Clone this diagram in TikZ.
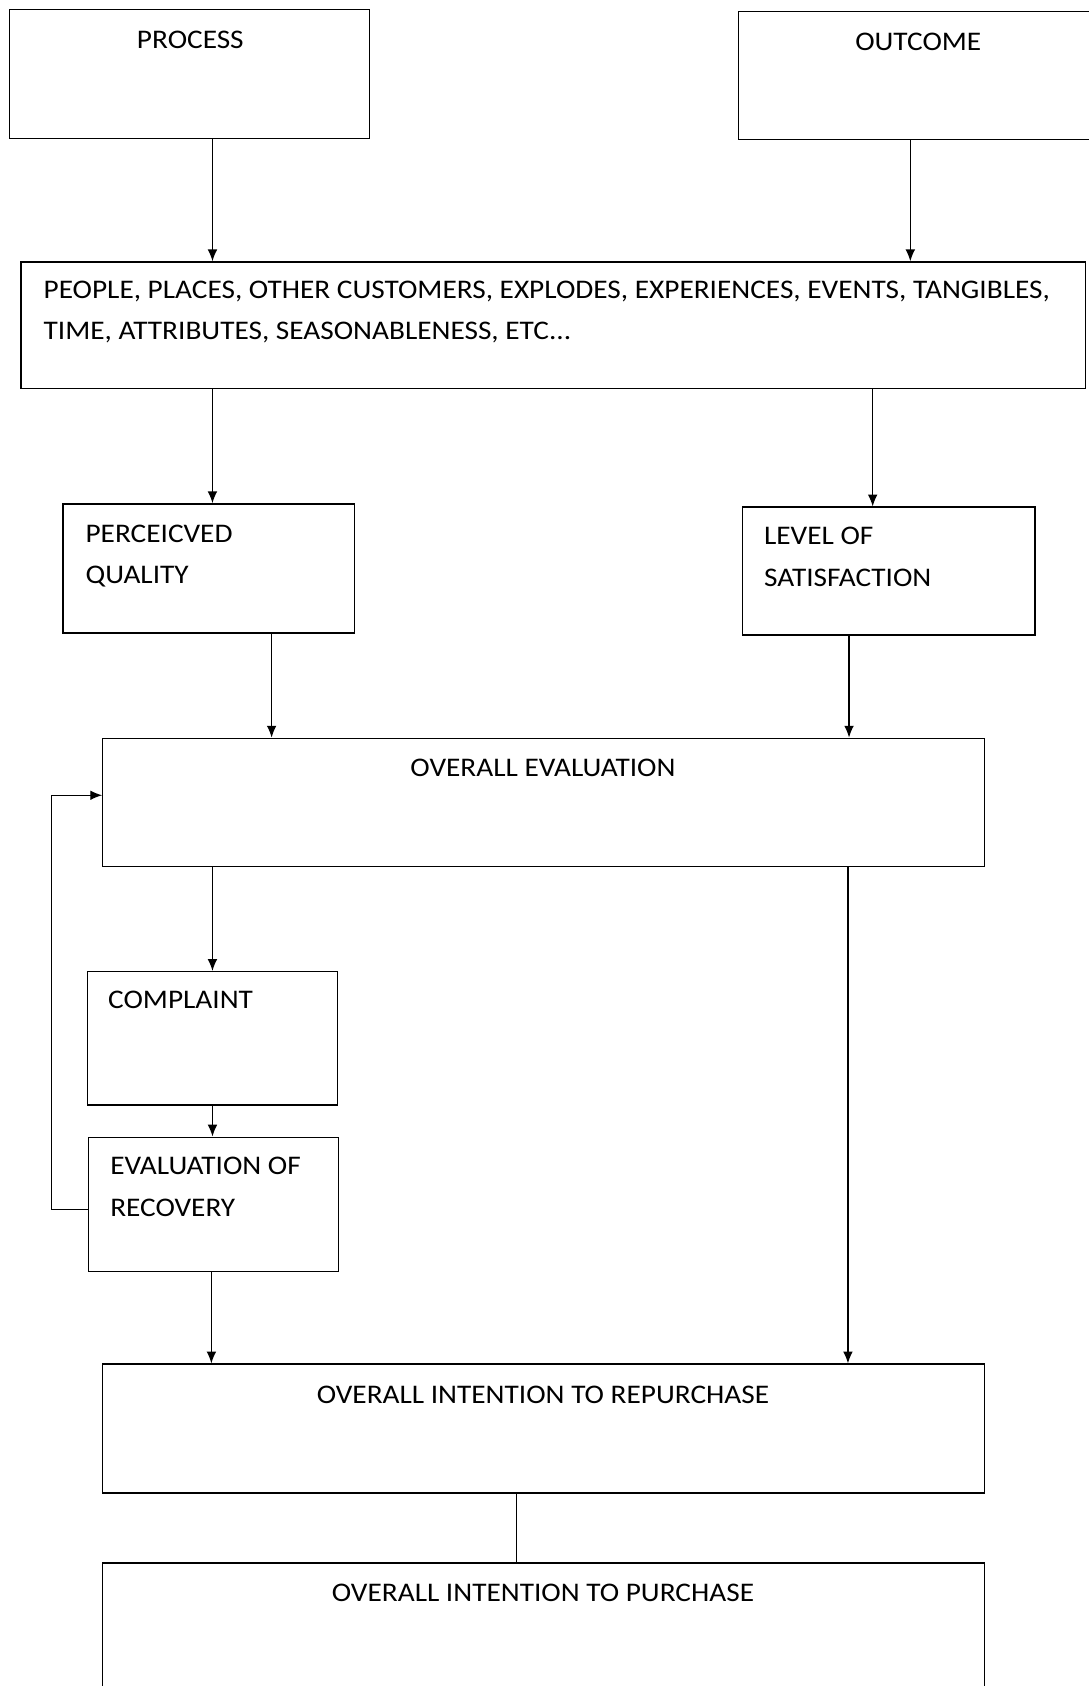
\documentclass[tikz,border=0pt]{standalone}
\usepackage{fontspec}
\setmainfont{Carlito}[FakeStretch=1.09]
\usetikzlibrary{calc,arrows.meta}

\begin{document}
\begin{tikzpicture}
[x=1pt,y=-1pt,>={Latex[length=11pt,width=9pt]},line width=1.2pt,
box/.style={draw,rectangle,anchor=north west,inner sep=0pt},
txt/.style={anchor=base west,inner sep=0pt,align=left,font=\fontsize{25}{38.5}\selectfont},
ctxt/.style={txt,anchor=base},]

%Page size
\useasboundingbox (0,0) rectangle (1012,1568);

%Boxes
\node (proc) at (8,8)[box,minimum width=335,minimum height=120] {};
\node (outc) at (686,10)[box,minimum width=330,minimum height=119] {};
\node (peo) at (19,243)[box,minimum width=990,minimum height=118] {};
\node (pq) at (58,468)[box,minimum width=271,minimum height=120] {};
\node (ls) at (690,471)[box,minimum width=272,minimum height=119] {};
\node (oe) at (95,686)[box,minimum width=820,minimum height=119] {};
\node (comp) at (81,903)[box,minimum width=232,minimum height=124] {};
\node (eor) at (82,1057)[box,minimum width=232,minimum height=125] {};
\node (oir) at (95,1268)[box,minimum width=820,minimum height=120] {};
\node (oip) at (95,1453)[box,minimum width=820,minimum height=130] {};

%Labels (base = last line)
\node (proct) at (177,45)[ctxt] {PROCESS};
\node (outct) at (854,47)[ctxt] {OUTCOME};
\node (peot) at (40,316)[txt] {PEOPLE, PLACES, OTHER CUSTOMERS, EXPLODES, EXPERIENCES, EVENTS, TANGIBLES,\\TIME, ATTRIBUTES, SEASONABLENESS, ETC...};
\node (pqt) at (79,543)[txt] {PERCEICVED\\QUALITY};
\node (lst) at (710,545)[txt] {LEVEL OF\\SATISFACTION};
\node (oet) at (505,722)[ctxt] {OVERALL EVALUATION};
\node (compt) at (100,938)[txt] {COMPLAINT};
\node (eort) at (102,1131)[txt] {EVALUATION OF\\RECOVERY};
\node (oirt) at (505,1305)[ctxt] {OVERALL INTENTION TO REPURCHASE};
\node (oipt) at (505,1489)[ctxt] {OVERALL INTENTION TO PURCHASE};

%Arrows
\draw[->] ([xshift=21.5]proc.south) -- ([xshift=21.5]proc.south |- peo.north);
\draw[->] ([xshift=-5]outc.south) -- ([xshift=-5]outc.south |- peo.north);
\draw[->] ([xshift=3.5]pq.north |- peo.south) -- ([xshift=3.5]pq.north);
\draw[->] ([xshift=-15]ls.north |- peo.south) -- ([xshift=-15]ls.north);
\draw[->] ([xshift=58.5]pq.south) -- ([xshift=58.5]pq.south |- oe.north);
\draw[->] ([xshift=-37]ls.south) -- ([xshift=-37]ls.south |- oe.north);
\draw[->] (comp.north |- oe.south) -- (comp.north);
\draw[->] (comp.south) -- (comp.south |- eor.north);
\draw[->] ([xshift=-2]eor.south) -- ([xshift=-2]eor.south |- oir.north);
\draw[->] ([xshift=283]oe.south) -- ([xshift=283]oe.south |- oir.north);
\draw[->] ([yshift=-4.5]eor.west) -- ++(-34,0) |- ([yshift=6.5]oe.west);
\draw ([xshift=-25]oir.south) -- ([xshift=-25]oir.south |- oip.north);

\end{tikzpicture}
\end{document}
